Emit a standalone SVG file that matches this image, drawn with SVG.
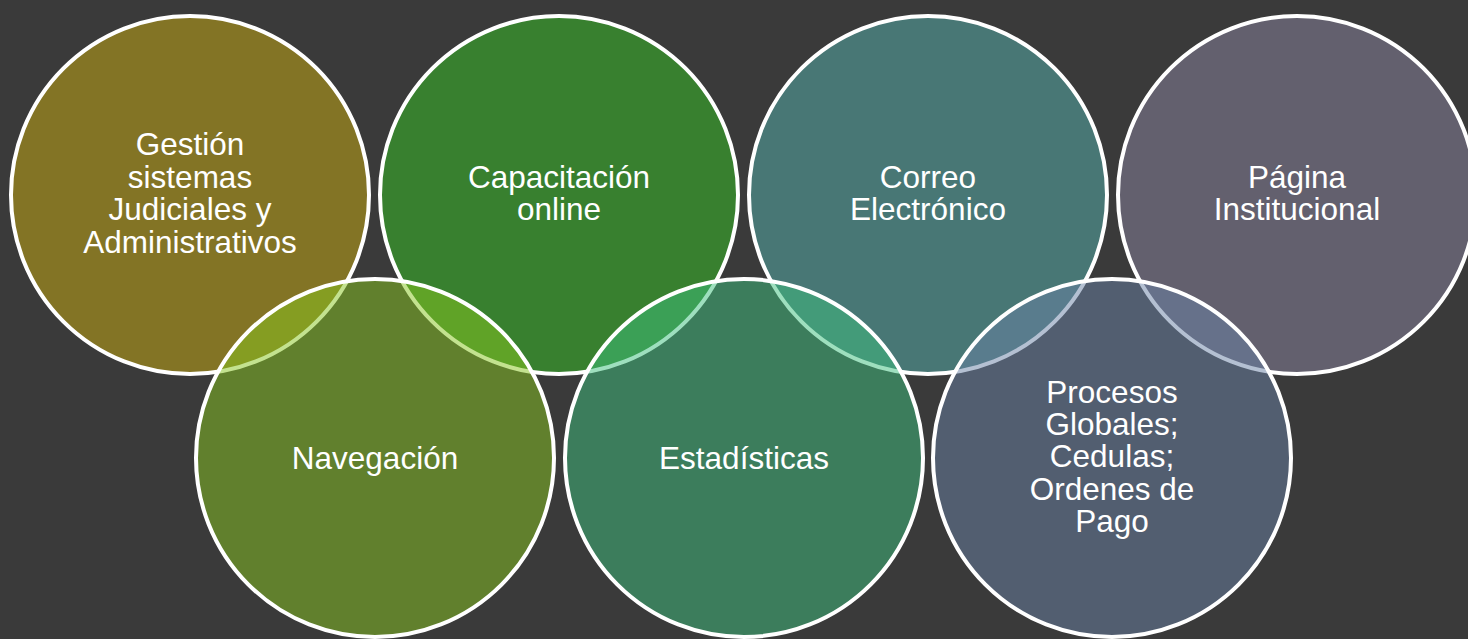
<svg xmlns="http://www.w3.org/2000/svg" width="1468" height="639" viewBox="0 0 1468 639">
<style>
.c{stroke:#ffffff;stroke-width:4}
.b{fill-opacity:0.5}
.t{font-family:"Liberation Sans",Arial,sans-serif;font-size:31.5px;fill:#ffffff;text-anchor:middle}
</style>
<rect width="1468" height="639" fill="#3a3a3a"/>
<g id="gestion">
<circle class="c" cx="190" cy="195" r="179" fill="#837425"/>
<text class="t" x="190"><tspan x="190" y="155">Gestión</tspan><tspan x="190" y="188">sistemas</tspan><tspan x="190" y="220">Judiciales y</tspan><tspan x="190" y="253">Administrativos</tspan></text>
</g>
<g id="capacitacion">
<circle class="c" cx="559" cy="195" r="179" fill="#38802f"/>
<text class="t"><tspan x="559" y="188">Capacitación</tspan><tspan x="559" y="220">online</tspan></text>
</g>
<g id="correo">
<circle class="c" cx="928" cy="195" r="179" fill="#487775"/>
<text class="t"><tspan x="928" y="188">Correo</tspan><tspan x="928" y="220">Electrónico</tspan></text>
</g>
<g id="pagina">
<circle class="c" cx="1297" cy="195" r="179" fill="#63606e"/>
<text class="t"><tspan x="1297" y="188">Página</tspan><tspan x="1297" y="220">Institucional</tspan></text>
</g>
<g id="navegacion">
<circle class="c b" cx="375" cy="458" r="179" fill="#88c620"/>
<text class="t" x="375" y="469">Navegación</text>
</g>
<g id="estadisticas">
<circle class="c b" cx="744" cy="458" r="179" fill="#3ec07e"/>
<text class="t" x="744" y="469">Estadísticas</text>
</g>
<g id="procesos">
<circle class="c b" cx="1112" cy="458" r="179" fill="#6a82a6"/>
<text class="t"><tspan x="1112" y="403">Procesos</tspan><tspan x="1112" y="435">Globales;</tspan><tspan x="1112" y="467">Cedulas;</tspan><tspan x="1112" y="500">Ordenes de</tspan><tspan x="1112" y="532">Pago</tspan></text>
</g>
<g id="connectors"/>
</svg>
